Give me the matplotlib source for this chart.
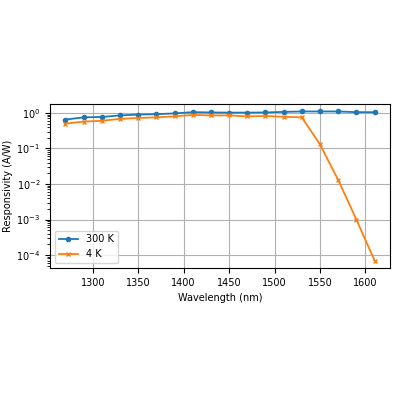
import matplotlib
matplotlib.use("Agg")
import matplotlib.pyplot as plt

wavelength = [1270, 1290, 1310, 1330, 1350, 1370, 1390, 1410, 1430,
              1450, 1470, 1490, 1510, 1530, 1550, 1570, 1590, 1610]
resp_300k = [0.65, 0.75, 0.77, 0.85, 0.9, 0.92, 0.97, 1.05, 1.03,
             1.02, 1.02, 1.03, 1.07, 1.1, 1.1, 1.1, 1.05, 1.05]
resp_4k = [0.5, 0.57, 0.6, 0.68, 0.72, 0.75, 0.8, 0.88, 0.85,
           0.85, 0.8, 0.82, 0.78, 0.75, 0.13, 0.013, 0.001, 0.00007]

fig = plt.figure(figsize=(4, 4), dpi=100)
ax = fig.add_axes([0.125, 0.33, 0.85, 0.41])
ax.semilogy(wavelength, resp_300k, marker="o", markersize=3, linewidth=1.3, label="300 K")
ax.semilogy(wavelength, resp_4k, marker="x", markersize=3.5, linewidth=1.3, label="4 K")
ax.set_xlabel("Wavelength (nm)", fontsize=7)
ax.set_ylabel("Responsivity (A/W)", fontsize=7, labelpad=2)
ax.tick_params(labelsize=7)
ax.grid(True)
ax.legend(loc="lower left", fontsize=7)
fig.savefig("out.png")
